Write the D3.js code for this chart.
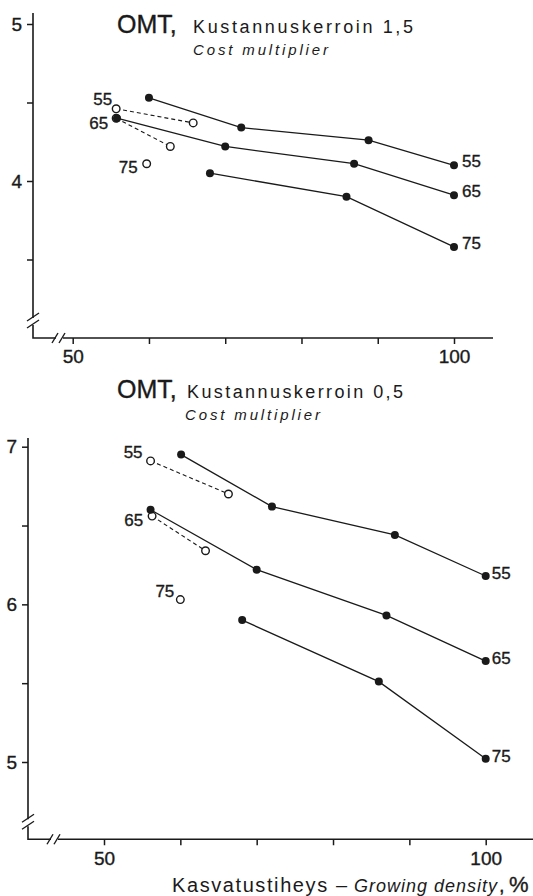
<!DOCTYPE html>
<html>
<head>
<meta charset="utf-8">
<script src="https://cdn.jsdelivr.net/npm/d3@7"></script>
<style>
  body { margin: 0; background: #fff; }
  svg { display: block; }
  text { font-family: "Liberation Sans", Arial, sans-serif; fill: #1a1a1a; }
  .num { stroke: #1a1a1a; stroke-width: 0.35; }
  .ink { stroke: #1a1a1a; fill: none; }
</style>
</head>
<body>
<script>
//tick values shared by both panels
var xTicks = [50, 60, 70, 80, 90, 100];
var xTickLabels = [50, 100];

//top panel, cost multiplier 1,5
var topY = [3.5, 4, 4.5, 5];
var topYLabels = [4, 5];
var top55 = [[60, 4.53], [72.1, 4.34], [88.8, 4.26], [100, 4.10]];
var top65 = [[55.8, 4.40], [70, 4.22], [86.9, 4.11], [100, 3.91]];
var top75 = [[68, 4.05], [85.9, 3.90], [100, 3.58]];
var top55open = [[55.7, 4.46], [65.8, 4.37]];
var top65open = [[55.7, 4.40], [62.8, 4.22]];
var top75open = [[59.7, 4.11]];

//bottom panel, cost multiplier 0,5
var botY = [5, 5.5, 6, 6.5, 7];
var botYLabels = [5, 6, 7];
var bot55 = [[60.1, 6.95], [72, 6.62], [88.1, 6.44], [100, 6.18]];
var bot65 = [[56.1, 6.60], [70, 6.22], [87, 5.93], [100, 5.64]];
var bot75 = [[68.1, 5.90], [86, 5.51], [100, 5.02]];
var bot55open = [[56.1, 6.91], [66.3, 6.70]];
var bot65open = [[56.3, 6.56], [63.3, 6.34]];
var bot75open = [[60, 6.03]];

var seriesNames = ["55", "65", "75"];

window.onload = draw();

function draw(){

    var svg = d3.select("body")
        .append("svg")
        .attr("width", 533)
        .attr("height", 896);

    //panel layouts (pixel frame only)
    var panels = [
        {
            title: "Kustannuskerroin 1,5", omtX: 117, titleX: 193, titleY: 33, titleW: 220,
            subX: 193, subY: 55,
            x: d3.scaleLinear().domain([50, 100]).range([72.7, 454]),
            y: d3.scaleLinear().domain([4, 5]).range([181, 24]),
            axisX: 33, axisTop: 5.07, axisBottom: 3.0, xEnd: 493,
            yTicks: topY, yLabels: topYLabels,
            solid: [top55, top65, top75],
            open: [top55open, top65open, top75open],
            leftLab: [[-4, -4], [-8, 11], [-9, 9]],
            rightLab: [8, 2]
        },
        {
            title: "Kustannuskerroin 0,5", omtX: 117, titleX: 187, titleY: 398, titleW: 216,
            subX: 185, subY: 420,
            x: d3.scaleLinear().domain([50, 100]).range([104, 485.7]),
            y: d3.scaleLinear().domain([5, 7]).range([762, 446.7]),
            axisX: 28, axisTop: 7.055, axisBottom: 4.51, xEnd: 533,
            yTicks: botY, yLabels: botYLabels,
            solid: [bot55, bot65, bot75],
            open: [bot55open, bot65open, bot75open],
            leftLab: [[-8, -3], [-9, 10], [-6, -3]],
            rightLab: [6, 3]
        }
    ];

    panels.forEach(function(p){
        var g = svg.append("g");
        var x = p.x, y = p.y;
        var x0 = p.axisX, yb = y(p.axisBottom), yt = y(p.axisTop);

        //titles
        g.append("text").attr("x", p.omtX).attr("y", p.titleY)
            .attr("font-size", 25).attr("class", "num")
            .text("OMT,");
        g.append("text").attr("x", p.titleX).attr("y", p.titleY)
            .attr("font-size", 18)
            .attr("textLength", p.titleW).attr("lengthAdjust", "spacing")
            .text(p.title);
        g.append("text").attr("x", p.subX).attr("y", p.subY)
            .attr("font-size", 15).attr("font-style", "italic")
            .attr("textLength", 135).attr("lengthAdjust", "spacing")
            .text("Cost multiplier");

        //y axis ticks and labels
        var yAxis = d3.axisLeft(y)
            .tickValues(p.yTicks)
            .tickSize(6)
            .tickPadding(5)
            .tickFormat(function(d){ return p.yLabels.indexOf(d) >= 0 ? d : ""; });
        var ya = g.append("g").attr("transform", "translate(" + x0 + ",0)").call(yAxis);
        ya.select(".domain").remove();
        ya.selectAll("line").attr("stroke", "#1a1a1a").attr("stroke-width", 1.5);
        ya.selectAll("text").attr("class", "num").attr("font-size", 19)
            .attr("font-family", "Liberation Sans, Arial, sans-serif");

        //x axis ticks and labels
        var xAxis = d3.axisBottom(x)
            .tickValues(xTicks)
            .tickSize(6)
            .tickPadding(6)
            .tickFormat(function(d){ return xTickLabels.indexOf(d) >= 0 ? d : ""; });
        var xa = g.append("g").attr("transform", "translate(0," + yb + ")").call(xAxis);
        xa.select(".domain").remove();
        xa.selectAll("line").attr("stroke", "#1a1a1a").attr("stroke-width", 1.5);
        xa.selectAll("text").attr("class", "num").attr("font-size", 19)
            .attr("font-family", "Liberation Sans, Arial, sans-serif");

        //axis lines with breaks
        var brY = yb - 17, brX = x0 + 26;
        var axisPath = "M" + x0 + "," + yt + "V" + (brY - 3) +
            "M" + x0 + "," + (brY + 4) + "V" + yb + "H" + (brX - 3) +
            "M" + (brX + 4) + "," + yb + "H" + p.xEnd;
        g.append("path").attr("class", "ink").attr("stroke-width", 1.6).attr("d", axisPath);
        //break slashes
        [-4, 3].forEach(function(o){
            g.append("path").attr("class", "ink").attr("stroke-width", 1.4)
                .attr("d", "M" + (x0 - 6) + "," + (brY + o + 4) + "L" + (x0 + 6) + "," + (brY + o - 4));
            g.append("path").attr("class", "ink").attr("stroke-width", 1.4)
                .attr("d", "M" + (brX + o - 3) + "," + (yb + 5) + "L" + (brX + o + 3) + "," + (yb - 5));
        });

        var line = d3.line().x(function(d){ return x(d[0]); }).y(function(d){ return y(d[1]); });

        //dashed series with open circles
        p.open.forEach(function(s){
            g.append("path").attr("class", "ink").attr("stroke-width", 1.1)
                .attr("stroke-dasharray", "4,3").attr("d", line(s));
        });
        //solid series with filled circles
        p.solid.forEach(function(s){
            g.append("path").attr("class", "ink").attr("stroke-width", 1.3).attr("d", line(s));
        });
        p.open.forEach(function(s){
            g.selectAll(null).data(s).enter().append("circle")
                .attr("cx", function(d){ return x(d[0]); })
                .attr("cy", function(d){ return y(d[1]); })
                .attr("r", 3.8).attr("fill", "#fff")
                .attr("stroke", "#1a1a1a").attr("stroke-width", 1.4);
        });
        p.solid.forEach(function(s){
            g.selectAll(null).data(s).enter().append("circle")
                .attr("cx", function(d){ return x(d[0]); })
                .attr("cy", function(d){ return y(d[1]); })
                .attr("r", 4).attr("fill", "#1a1a1a");
        });

        //series labels at the left (open) and right (solid) ends
        p.open.forEach(function(s, i){
            var d = s[0];
            g.append("text").attr("class", "num")
                .attr("x", x(d[0]) + p.leftLab[i][0])
                .attr("y", y(d[1]) + p.leftLab[i][1])
                .attr("text-anchor", "end")
                .attr("font-size", 17)
                .text(seriesNames[i]);
        });
        p.solid.forEach(function(s, i){
            var d = s[s.length - 1];
            g.append("text").attr("class", "num")
                .attr("x", x(d[0]) + p.rightLab[0])
                .attr("y", y(d[1]) + p.rightLab[1])
                .attr("font-size", 17)
                .text(seriesNames[i]);
        });
    });

    //x axis title, Finnish part upright and English part italic
    svg.append("text").attr("x", 172).attr("y", 892).attr("font-size", 20)
        .attr("textLength", 175).attr("lengthAdjust", "spacing")
        .text("Kasvatustiheys \u2013");
    svg.append("text").attr("x", 354).attr("y", 892).attr("font-size", 18)
        .attr("font-style", "italic")
        .attr("textLength", 143).attr("lengthAdjust", "spacing")
        .text("Growing density");
    svg.append("text").attr("x", 499).attr("y", 892).attr("font-size", 20)
        .attr("class", "num").text(",");
    svg.append("text").attr("x", 509).attr("y", 892).attr("font-size", 22)
        .attr("class", "num").text("%");
};
</script>
</body>
</html>
